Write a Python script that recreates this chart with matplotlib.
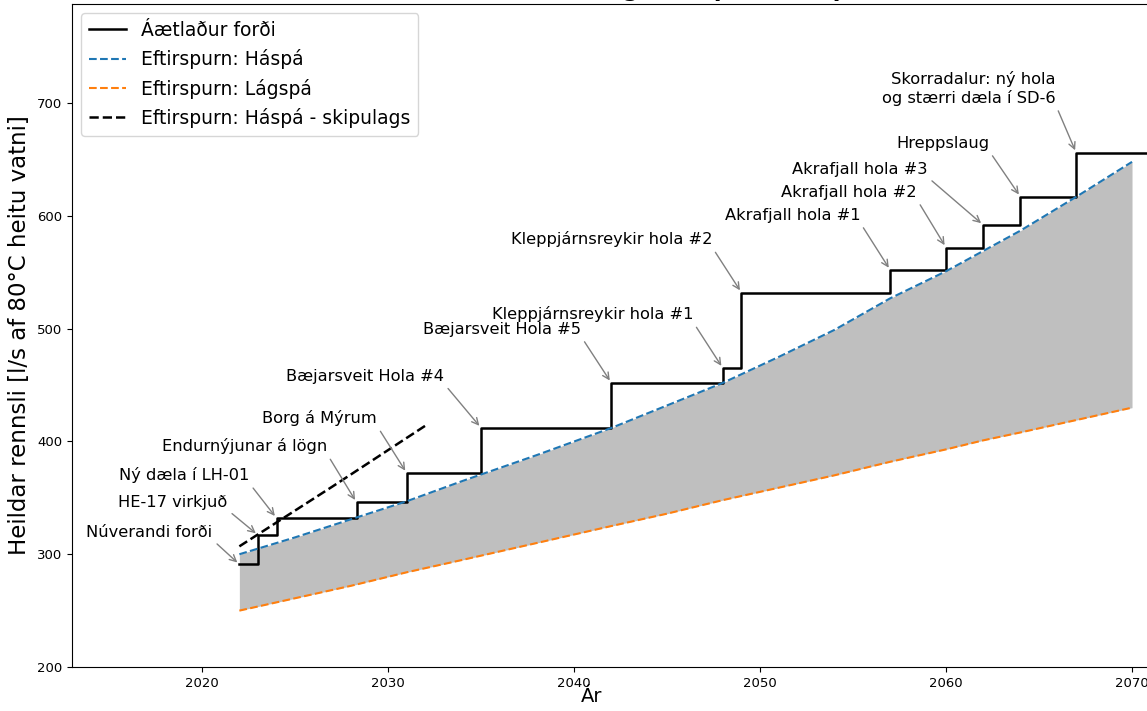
import matplotlib
matplotlib.use("Agg")
import matplotlib.pyplot as plt

# ---- data ----
supply_years = [2022, 2023, 2024, 2028.3, 2031, 2035, 2042, 2048, 2049, 2057, 2060, 2062, 2064, 2067]
supply_values = [291, 317, 332, 346, 372, 412, 452, 465, 532, 552, 572, 592, 617, 656]
supply_labels = ["Núverandi forði", "HE-17 virkjuð", "Ný dæla í LH-01", "Endurnýjunar á lögn",
                 "Borg á Mýrum", "Bæjarsveit Hola #4", "Bæjarsveit Hola #5",
                 "Kleppjárnsreykir hola #1", "Kleppjárnsreykir hola #2",
                 "Akrafjall hola #1", "Akrafjall hola #2", "Akrafjall hola #3",
                 "Hreppslaug", "Skorradalur: ný hola\nog stærri dæla í SD-6"]

demand_years = [2022, 2025, 2028, 2031, 2034, 2038, 2042, 2045, 2048, 2051, 2054,
                2057, 2060, 2062, 2064, 2067, 2070]
demand_high = [300, 315, 331, 347, 365, 388, 412, 432, 452, 475, 499,
               527, 551, 569, 587, 617, 648]
demand_low = [250, 261, 272, 284, 295, 310, 325, 336, 348, 359, 370,
              382, 393, 401, 408, 419, 430]

plan_years = [2022, 2027, 2032]
plan_high = [307, 360, 414]

y_ticks = [200, 300, 400, 500, 600, 700]
x_ticks = [2020, 2030, 2040, 2050, 2060, 2070]

# label text anchor positions (right edge, vertical centre) in data coords
label_pos = [(2020.54, 319.7), (2021.34, 346.3), (2022.53, 370.2), (2026.72, 395.9),
             (2029.41, 420.7), (2033.0, 458.0), (2040.38, 499.6), (2046.4, 512.9),
             (2047.42, 579.4), (2055.38, 600.7), (2058.44, 621.1), (2058.98, 641.5),
             (2062.31, 664.5), (2065.91, 713.3)]

X_MIN, X_MAX = 2013, 2075

fig = plt.figure(figsize=(11.47, 7.11), dpi=100)
ax = fig.add_axes([72 / 1147, 44 / 711, (1225 - 72) / 1147, 663 / 711])

ax.fill_between(demand_years, demand_low, demand_high, color="#bfbfbf", lw=0)
ax.plot(supply_years + [X_MAX], supply_values + [supply_values[-1]],
        drawstyle="steps-post", color="black", lw=1.8, label="Áætlaður forði")
ax.plot(demand_years, demand_high, ls="--", color="C0", lw=1.5, label="Eftirspurn: Háspá")
ax.plot(demand_years, demand_low, ls="--", color="C1", lw=1.5, label="Eftirspurn: Lágspá")
ax.plot(plan_years, plan_high, ls="--", color="black", lw=1.8,
        label="Eftirspurn: Háspá - skipulags")

for x, y, lab, (tx, ty) in zip(supply_years, supply_values, supply_labels, label_pos):
    ax.annotate(lab, xy=(x, y), xytext=(tx, ty), ha="right", va="center",
                multialignment="right", fontsize=11.7,
                arrowprops=dict(arrowstyle="->", color="gray", lw=1, relpos=(1.0, 0.0)))

ax.set_xlim(X_MIN, X_MAX)
ax.set_ylim(200, 788)
ax.set_xticks(x_ticks)
ax.set_yticks(y_ticks)
ax.tick_params(labelsize=9.5)
ax.set_ylabel("Heildar rennsli [l/s af 80°C heitu vatni]", fontsize=16.5)
ax.set_xlabel("Ár", fontsize=14)
ax.xaxis.set_label_coords((592 - 72) / (1225 - 72), -0.03)
ax.set_title("Áætlaður forði og eftirspurn, háspá", fontsize=16, fontweight="bold",
             x=(640 - 72) / (1225 - 72), pad=5)
ax.legend(loc="upper left", fontsize=13.5)

fig.savefig("out.png", dpi=100)
